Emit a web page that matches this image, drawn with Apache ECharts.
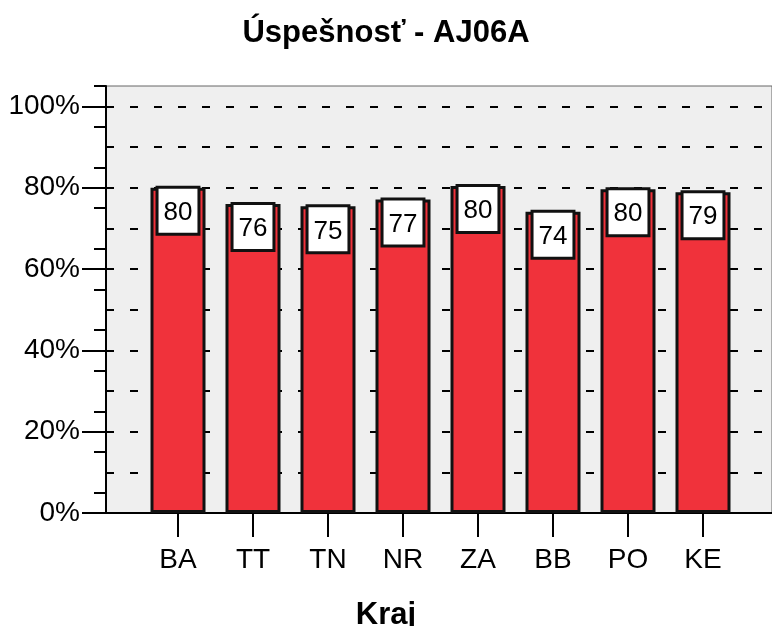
<!DOCTYPE html>
<html>
<head>
<meta charset="utf-8">
<script src="https://cdn.jsdelivr.net/npm/echarts@6/dist/echarts.min.js"></script>
<style>html,body{margin:0;padding:0;background:#fff}#c{width:772px;height:626px}</style>
</head>
<body>
<div id="c"></div>
<script>
const titleText = 'Úspešnosť - AJ06A';
const xAxisTitle = 'Kraj';
const categories = ['BA', 'TT', 'TN', 'NR', 'ZA', 'BB', 'PO', 'KE'];
const values = [80.0, 76.0, 75.4, 77.1, 80.4, 74.1, 79.6, 78.9];
const yMin = 0;
const yMax = 105;
const yMajorTicks = [0, 20, 40, 60, 80, 100];
const yMinorTicks = [5, 15, 25, 35, 45, 55, 65, 75, 85, 95, 105];
const yGridStep = 10;

const FONT = 'Liberation Sans, Arial, Helvetica, sans-serif';
const chart = echarts.init(document.getElementById('c'), null, {renderer: 'canvas'});

const option = {
  animation: false,
  backgroundColor: '#ffffff',
  title: [
    {text: titleText, left: 'center', top: 13,
     textStyle: {fontFamily: FONT, fontSize: 31, fontWeight: 'bold', color: '#000'}},
    {text: xAxisTitle, left: 'center', top: 595,
     textStyle: {fontFamily: FONT, fontSize: 31, fontWeight: 'bold', color: '#000'}}
  ],
  grid: [
    {left: 106, right: 0, top: 86, bottom: 113, containLabel: false, outerBoundsMode: 'none',
     show: true, backgroundColor: '#efefef', borderColor: '#666', borderWidth: 1},
    {left: 140.5, right: 31.5, top: 86, bottom: 113, containLabel: false, outerBoundsMode: 'none'}
  ],
  xAxis: [
    {gridIndex: 0, type: 'value', min: 0, max: 1,
     axisLine: {show: true, onZero: false, lineStyle: {color: '#000', width: 2}},
     axisTick: {show: false}, axisLabel: {show: false}, splitLine: {show: false}},
    {gridIndex: 1, type: 'category', data: categories,
     axisLine: {show: false},
     axisTick: {show: true, alignWithLabel: true, length: 24, lineStyle: {color: '#000', width: 2}},
     axisLabel: {show: true, margin: 33, fontFamily: FONT, fontSize: 28, color: '#000'},
     splitLine: {show: false}}
  ],
  yAxis: [
    {gridIndex: 0, type: 'value', position: 'left', min: yMin, max: yMax,
     axisLine: {show: true, onZero: false, lineStyle: {color: '#000', width: 2}},
     axisTick: {show: true, length: 24, customValues: yMajorTicks, lineStyle: {color: '#000', width: 2}},
     axisLabel: {show: true, margin: 26, customValues: yMajorTicks, fontFamily: FONT, fontSize: 28, color: '#000',
       formatter: v => v + '%'},
     splitLine: {show: false}},
    {gridIndex: 0, type: 'value', position: 'left', min: yMin, max: yMax, interval: yGridStep,
     axisLine: {show: false},
     axisTick: {show: false},
     axisLabel: {show: false},
     splitLine: {show: true, showMinLine: false, showMaxLine: false,
       lineStyle: {color: '#000', width: 2, type: [8, 16], dashOffset: 0}}},
    {gridIndex: 0, type: 'value', position: 'left', min: yMin, max: yMax,
     axisLine: {show: false},
     axisTick: {show: true, length: 12, customValues: yMinorTicks, lineStyle: {color: '#000', width: 2}},
     axisLabel: {show: false},
     splitLine: {show: false}},
    {gridIndex: 1, type: 'value', min: yMin, max: yMax, show: false,
     axisLine: {show: false}, axisTick: {show: false}, axisLabel: {show: false}, splitLine: {show: false}}
  ],
  series: [
    {type: 'bar', xAxisIndex: 1, yAxisIndex: 3, data: values, barWidth: 55,
     itemStyle: {color: '#f0323b', borderColor: '#111', borderWidth: 3},
     label: {show: true, position: 'insideTop', distance: 1,
       formatter: p => String(Math.round(p.value)),
       fontFamily: FONT, fontSize: 26, lineHeight: 26, color: '#000',
       backgroundColor: '#fff', borderColor: '#111', borderWidth: 3,
       padding: [11, 5, 7, 5]}}
  ]
};
chart.setOption(option);
</script>
</body>
</html>
